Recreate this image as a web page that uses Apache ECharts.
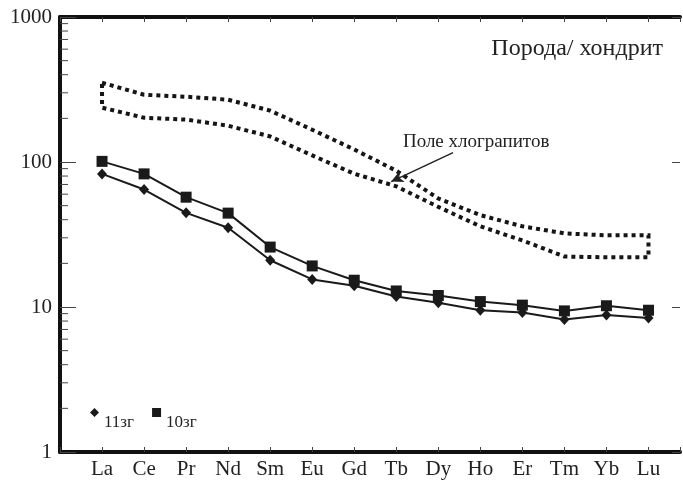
<!DOCTYPE html>
<html>
<head>
<meta charset="utf-8">
<script src="https://cdn.jsdelivr.net/npm/echarts@6/dist/echarts.min.js"></script>
<style>html,body{margin:0;padding:0;background:#fff}#c{width:683px;height:480px}</style>
</head>
<body>
<div id="c"></div>
<script>
const categories = ['La','Ce','Pr','Nd','Sm','Eu','Gd','Tb','Dy','Ho','Er','Tm','Yb','Lu'];
const sample11 = [82.8,64.6,44.6,35.2,21.0,15.5,14.0,11.8,10.7,9.5,9.15,8.2,8.8,8.4];
const sample10 = [101,82.8,57.2,44.4,25.9,19.2,15.3,12.9,12.0,10.9,10.3,9.4,10.2,9.5];
const fieldUpper = [352,291,282,269,226,167,122,87,56,43,36,32.2,31.2,31.2];
const fieldLower = [237,202,196,178,150,111,83,68,49,36,28.8,22.3,22,22];
const yTickLabels = [1,10,100,1000];
const minorTickValues = [2,3,4,5,6,7,8,9,20,30,40,50,60,70,80,90,200,300,400,500,600,700,800,900];
const titleText = 'Порода/ хондрит';
const fieldLabel = 'Поле хлограпитов';
const fieldLabelAt = [8.9, 138];
const arrowFrom = [8.35, 116];
const arrowTo = [6.88, 73.3];
const seriesNames = ['11зг','10зг'];

const FONT = '"Liberation Serif","Times New Roman",serif';
const fieldPoly = [];
fieldUpper.forEach((v,i)=>fieldPoly.push([i,v]));
for (let i=fieldLower.length-1;i>=0;i--) fieldPoly.push([i,fieldLower[i]]);
fieldPoly.push([0,fieldUpper[0]]);

const chart = echarts.init(document.getElementById('c'), null, {renderer:'canvas'});
const xBase = {
  type:'value', min:-1, max:13.75, interval:1,
  splitLine:{show:false},
  axisLine:{show:true, onZero:false, lineStyle:{color:'#111', width:4}},
  axisTick:{show:true, inside:true, length:5, lineStyle:{color:'#444', width:1}}
};
const yBase = {
  type:'log', logBase:10, min:1, max:1000,
  splitLine:{show:false},
  axisLine:{show:true, onZero:false, lineStyle:{color:'#111', width:4}},
  axisTick:{show:true, inside:true, length:16, lineStyle:{color:'#444', width:1}}
};
chart.setOption({
  animation:false,
  backgroundColor:'#fff',
  title:{text:titleText, right:20, top:37, padding:0,
    textStyle:{fontFamily:FONT, fontSize:24, fontWeight:'normal', color:'#222'}},
  legend:{
    left:90, top:408, padding:0, itemGap:18, itemWidth:9, itemHeight:9,
    data:[{name:seriesNames[0], icon:'diamond'},{name:seriesNames[1], icon:'rect'}],
    formatter:name=>'{t|'+name+'}',
    textStyle:{fontFamily:FONT, fontSize:17, color:'#222',
      rich:{t:{fontFamily:FONT, fontSize:17, color:'#222', padding:[20,0,0,0]}}}
  },
  grid:{left:60, right:0, top:17, bottom:27},
  xAxis:[
    Object.assign({}, xBase, {position:'bottom',
      axisLabel:{show:true, margin:7, fontFamily:FONT, fontSize:21, color:'#222',
        formatter:v=>categories[v]!==undefined?categories[v]:''}}),
    Object.assign({}, xBase, {position:'top', axisLabel:{show:false}})
  ],
  yAxis:[
    Object.assign({}, yBase, {position:'left',
      axisLabel:{show:true, margin:8, fontFamily:FONT, fontSize:21, color:'#222',
        formatter:v=>yTickLabels.indexOf(v)>=0?String(v):''}}),
    Object.assign({}, yBase, {position:'right', axisLabel:{show:false},
      axisLine:{show:false, onZero:false},
      axisTick:{show:true, inside:true, length:8, lineStyle:{color:'#444', width:1}}})
  ],
  series:[
    {
      type:'line', name:'field', data:fieldPoly, showSymbol:false, symbol:'none',
      lineStyle:{color:'#151515', width:4, type:[4,4], cap:'butt', join:'miter'},
      silent:true, z:1,
      markLine:{
        silent:true, symbol:['none','arrow'], symbolSize:[9,12],
        lineStyle:{color:'#222', width:1.5, type:'solid'},
        label:{show:false},
        data:[[{coord:arrowFrom},{coord:arrowTo}]]
      },
      markPoint:{
        silent:true, symbol:'circle', symbolSize:0,
        data:[{coord:fieldLabelAt}],
        label:{show:true, position:'inside', formatter:fieldLabel,
          fontFamily:FONT, fontSize:19, color:'#222'}
      }
    },
    {
      type:'line', name:seriesNames[0], data:sample11.map((v,i)=>[i,v]),
      symbol:'diamond', symbolSize:[10,11],
      lineStyle:{color:'#1a1a1a', width:2}, itemStyle:{color:'#1a1a1a'}, z:3
    },
    {
      type:'line', name:seriesNames[1], data:sample10.map((v,i)=>[i,v]),
      symbol:'rect', symbolSize:11,
      lineStyle:{color:'#1a1a1a', width:2}, itemStyle:{color:'#1a1a1a'}, z:3
    },
    {
      type:'custom', silent:true, clip:false, z:5,
      data:minorTickValues.map(v=>[-1,v]),
      renderItem:(params, api)=>{
        const p = api.coord([-1, api.value(1)]);
        return {type:'line', shape:{x1:p[0], y1:p[1], x2:p[0]+8, y2:p[1]},
          style:{stroke:'#444', lineWidth:1}};
      }
    }
  ]
});
</script>
</body>
</html>
